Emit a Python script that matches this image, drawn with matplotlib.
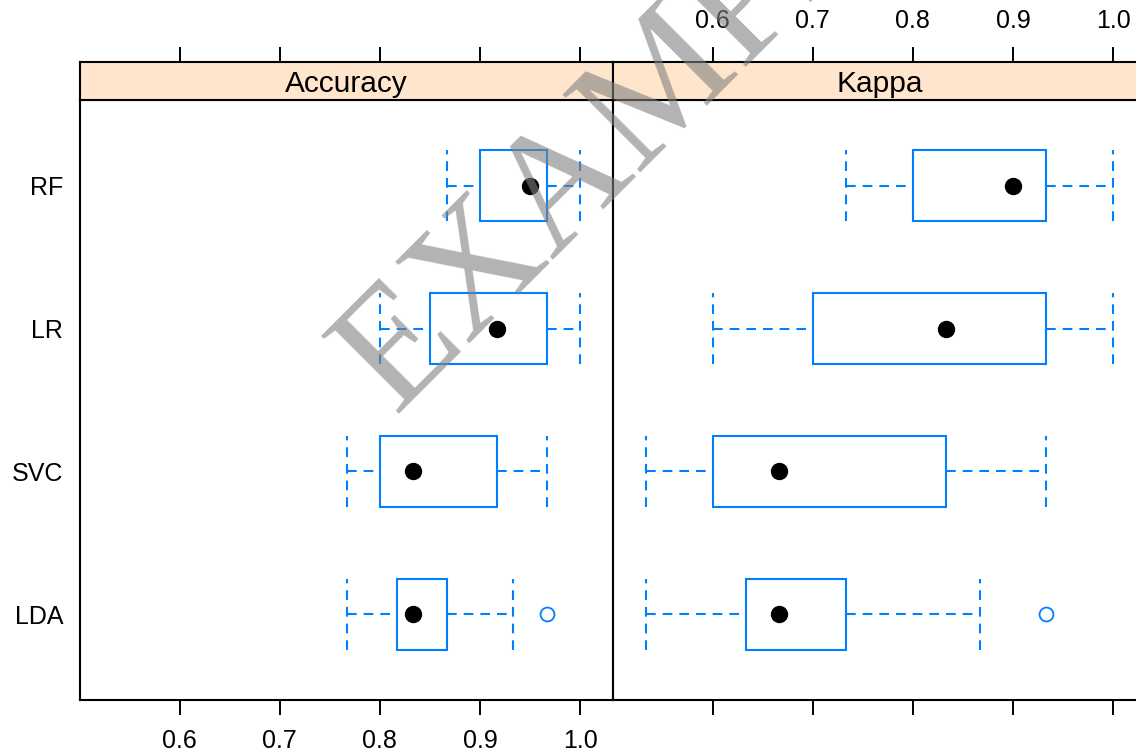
import numpy as np
import matplotlib.pyplot as plt
from matplotlib.patches import Rectangle

plt.rcParams['font.family'] = ['Liberation Sans', 'DejaVu Sans']
plt.rcParams['lines.scale_dashes'] = False

models = ['LDA', 'SVC', 'LR', 'RF']
metrics = ['Accuracy', 'Kappa']

# box summaries per model: lower whisker, Q1, median, Q3, upper whisker, outliers
acc_low = [0.7667, 0.7667, 0.8, 0.8667]
acc_q1 = [0.8167, 0.8, 0.85, 0.9]
acc_med = [0.8333, 0.8333, 0.9167, 0.95]
acc_q3 = [0.8667, 0.9167, 0.9667, 0.9667]
acc_high = [0.9333, 0.9667, 1.0, 1.0]
acc_out = [[0.9667], [], [], []]

kap_low = [0.5333, 0.5333, 0.6, 0.7333]
kap_q1 = [0.6333, 0.6, 0.7, 0.8]
kap_med = [0.6667, 0.6667, 0.8333, 0.9]
kap_q3 = [0.7333, 0.8333, 0.9333, 0.9333]
kap_high = [0.8667, 0.9333, 1.0, 1.0]
kap_out = [[0.9333], [], [], []]

xticks = [0.6, 0.7, 0.8, 0.9, 1.0]

blue = '#0080ff'
W, H = 1136, 755

def pos(x0, y0, x1, y1):
    return [x0 / W, 1 - y1 / H, (x1 - x0) / W, (y1 - y0) / H]

# shared x scale like lattice (7% padding)
lo = min(acc_low + kap_low)
hi = max(acc_high + kap_high)
pad = 0.07 * (hi - lo)
xlim = (lo - pad, hi + pad)

fig = plt.figure(figsize=(11.36, 7.55), dpi=100)

data = [(acc_low, acc_q1, acc_med, acc_q3, acc_high, acc_out),
        (kap_low, kap_q1, kap_med, kap_q3, kap_high, kap_out)]
lefts = [80, 613]

for k in range(2):
    x0 = lefts[k]
    ax = fig.add_axes(pos(x0, 100, x0 + 533, 700))
    st = fig.add_axes(pos(x0, 62, x0 + 533, 100))
    low, q1, med, q3, high, out = data[k]
    hw = 0.25
    for i in range(len(models)):
        y = i + 1
        ax.add_patch(Rectangle((q1[i], y - hw), q3[i] - q1[i], 2 * hw,
                               fill=False, edgecolor=blue, lw=1.5, zorder=3))
        ax.plot([low[i], q1[i]], [y, y], color=blue, lw=1.5, dashes=(7, 5))
        ax.plot([q3[i], high[i]], [y, y], color=blue, lw=1.5, dashes=(7, 5))
        ax.plot([low[i], low[i]], [y - hw, y + hw], color=blue, lw=1.5, dashes=(7, 5))
        ax.plot([high[i], high[i]], [y - hw, y + hw], color=blue, lw=1.5, dashes=(7, 5))
        ax.plot([med[i]], [y], 'o', color='black', ms=11.5, zorder=4)
        if out[i]:
            ax.plot(out[i], [y] * len(out[i]), 'o', mfc='none', mec=blue,
                    mew=1.3, ms=10, zorder=4)
    ax.set_xlim(xlim)
    ax.set_ylim(0.4, len(models) + 0.6)
    ax.set_yticks(range(1, len(models) + 1))
    ax.set_xticks(xticks)
    ax.set_xticklabels(['%.1f' % t for t in xticks])
    ax.tick_params(axis='x', length=11, width=1.4, pad=10, labelsize=18,
                   labelbottom=(k == 0))
    if k == 0:
        ax.set_yticklabels(models)
        ax.tick_params(axis='y', length=0, pad=12, labelsize=18)
    else:
        ax.tick_params(axis='y', length=0, labelleft=False)
    for s in ax.spines.values():
        s.set_linewidth(1.5)

    st.set_facecolor('#ffe5cc')
    st.set_xlim(xlim)
    st.set_ylim(0, 1)
    st.set_yticks([])
    st.set_xticks(xticks)
    st.set_xticklabels(['%.1f' % t for t in xticks])
    st.xaxis.tick_top()
    st.tick_params(axis='x', length=11, width=1.4, pad=10, labelsize=18,
                   labeltop=(k == 1))
    for s in st.spines.values():
        s.set_linewidth(1.5)
    st.text(0.5, 0.22, metrics[k], transform=st.transAxes, ha='center',
            va='baseline', fontsize=21.5)

# watermark, anchored at its baseline start
fig.text(394 / W, 1 - 414 / H, 'EXAMPLE', rotation=45, rotation_mode='anchor',
         ha='left', va='baseline', fontsize=120, family='Liberation Serif',
         color='#808080', alpha=0.6, zorder=10)

fig.savefig('out.png', dpi=100)
